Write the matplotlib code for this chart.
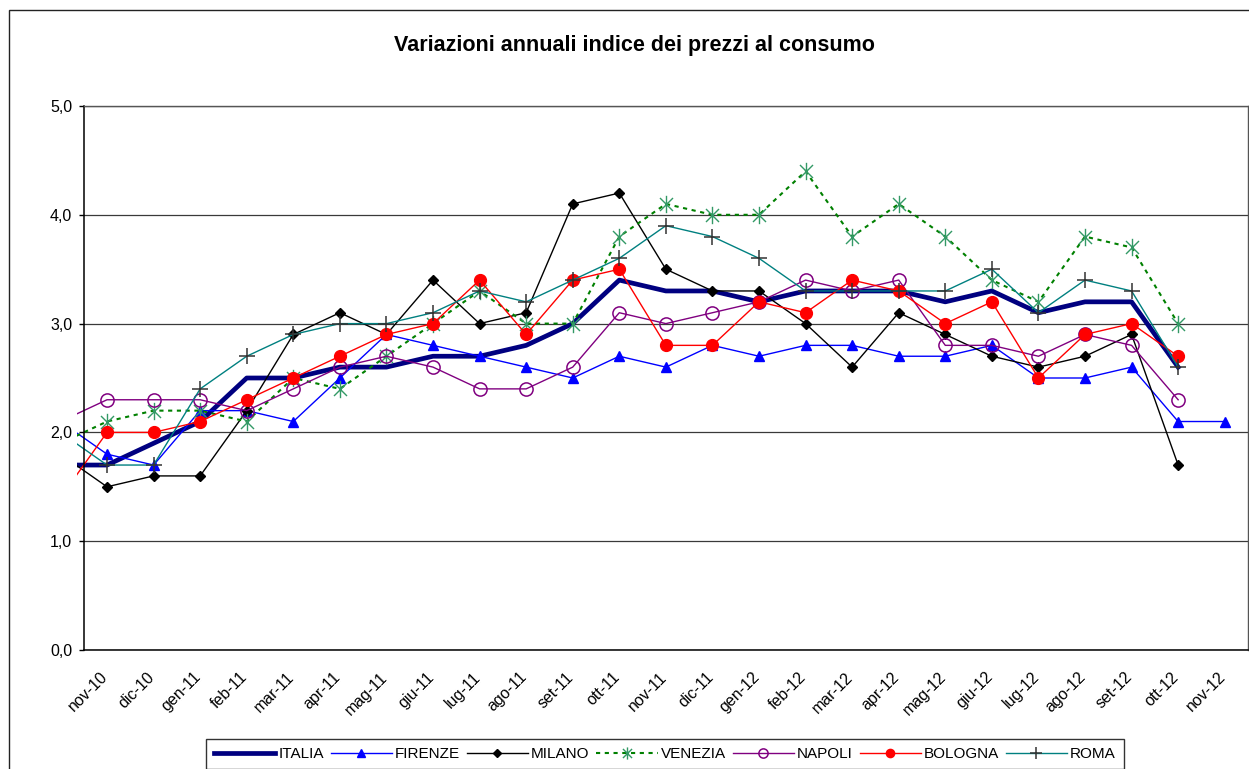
import matplotlib
matplotlib.use("Agg")
import matplotlib.pyplot as plt
import numpy as np
from matplotlib.path import Path
from matplotlib.patches import Rectangle
from matplotlib.ticker import FuncFormatter, FixedLocator

plt.rcParams['font.family'] = ['Liberation Sans', 'DejaVu Sans']

# ---- data ----
prev_month = 'ott-10'   # partially visible month before the first label
categories = ['nov-10', 'dic-10', 'gen-11', 'feb-11', 'mar-11', 'apr-11', 'mag-11',
              'giu-11', 'lug-11', 'ago-11', 'set-11', 'ott-11', 'nov-11', 'dic-11',
              'gen-12', 'feb-12', 'mar-12', 'apr-12', 'mag-12', 'giu-12', 'lug-12',
              'ago-12', 'set-12', 'ott-12', 'nov-12']

# first value of each list belongs to prev_month
italia  = [1.7, 1.7, 1.9, 2.1, 2.5, 2.5, 2.6, 2.6, 2.7, 2.7, 2.8, 3.0, 3.4, 3.3, 3.3, 3.2,
           3.3, 3.3, 3.3, 3.2, 3.3, 3.1, 3.2, 3.2, 2.6, None]
firenze = [2.1, 1.8, 1.7, 2.2, 2.2, 2.1, 2.5, 2.9, 2.8, 2.7, 2.6, 2.5, 2.7, 2.6, 2.8, 2.7,
           2.8, 2.8, 2.7, 2.7, 2.8, 2.5, 2.5, 2.6, 2.1, 2.1]
milano  = [1.8, 1.5, 1.6, 1.6, 2.2, 2.9, 3.1, 2.9, 3.4, 3.0, 3.1, 4.1, 4.2, 3.5, 3.3, 3.3,
           3.0, 2.6, 3.1, 2.9, 2.7, 2.6, 2.7, 2.9, 1.7, None]
venezia = [1.9, 2.1, 2.2, 2.2, 2.1, 2.5, 2.4, 2.7, 3.0, 3.3, 3.0, 3.0, 3.8, 4.1, 4.0, 4.0,
           4.4, 3.8, 4.1, 3.8, 3.4, 3.2, 3.8, 3.7, 3.0, None]
napoli  = [2.1, 2.3, 2.3, 2.3, 2.2, 2.4, 2.6, 2.7, 2.6, 2.4, 2.4, 2.6, 3.1, 3.0, 3.1, 3.2,
           3.4, 3.3, 3.4, 2.8, 2.8, 2.7, 2.9, 2.8, 2.3, None]
bologna = [1.4, 2.0, 2.0, 2.1, 2.3, 2.5, 2.7, 2.9, 3.0, 3.4, 2.9, 3.4, 3.5, 2.8, 2.8, 3.2,
           3.1, 3.4, 3.3, 3.0, 3.2, 2.5, 2.9, 3.0, 2.7, None]
roma    = [2.0, 1.7, 1.7, 2.4, 2.7, 2.9, 3.0, 3.0, 3.1, 3.3, 3.2, 3.4, 3.6, 3.9, 3.8, 3.6,
           3.3, 3.3, 3.3, 3.3, 3.5, 3.1, 3.4, 3.3, 2.6, None]

series_names = ['ITALIA', 'FIRENZE', 'MILANO', 'VENEZIA', 'NAPOLI', 'BOLOGNA', 'ROMA']
series_vals = [italia, firenze, milano, venezia, napoli, bologna, roma]
yticks = [0, 1, 2, 3, 4, 5]
title = 'Variazioni annuali indice dei prezzi al consumo'

# ---- figure ----
W, H = 1249, 769
fig = plt.figure(figsize=(W / 100, H / 100), dpi=100)
fig.patch.set_facecolor('white')

# outer chart frame (cropped on right/bottom)
fig.patches.append(Rectangle((9 / W, -0.05), 1.2, (H - 10) / H + 0.05,
                             transform=fig.transFigure, fill=False,
                             edgecolor='#222222', linewidth=1.0))

ax = fig.add_axes([84 / W, 1 - 650 / H, (1248 - 84) / W, (650 - 106) / H])

# asterisk marker: X plus vertical stroke
ast = Path([(0, -1), (0, 1), (-0.75, -0.75), (0.75, 0.75), (-0.75, 0.75), (0.75, -0.75)],
           [Path.MOVETO, Path.LINETO, Path.MOVETO, Path.LINETO, Path.MOVETO, Path.LINETO])

styles = {
    'ITALIA':  dict(color='#000080', lw=3.4, marker=None),
    'FIRENZE': dict(color='#0000FF', lw=1.0, marker='^', ms=7.5, mfc='#0000FF', mec='#0000FF'),
    'MILANO':  dict(color='#000000', lw=1.0, marker='D', ms=5.5, mfc='#000000', mec='#000000'),
    'VENEZIA': dict(color='#008000', lw=1.5, ls=(0, (2, 2.2)), marker=ast, ms=12.5,
                    mfc='none', mec='#339966', mew=1.0),
    'NAPOLI':  dict(color='#800080', lw=1.0, marker='o', ms=9.5, mfc='none', mec='#800080', mew=1.1),
    'BOLOGNA': dict(color='#FF0000', lw=1.0, marker='o', ms=8.5, mfc='#FF0000', mec='#FF0000'),
    'ROMA':    dict(color='#008080', lw=1.0, marker='+', ms=12, mfc='#333333', mec='#333333', mew=1.1),
}

x = np.arange(-1, len(categories))
clip_rect = Rectangle((-7 / 1164, 0), 1 + 7 / 1164, 1, transform=ax.transAxes)

for name, vals in zip(series_names, series_vals):
    y = np.array([np.nan if v is None else v for v in vals], dtype=float)
    st = dict(styles[name])
    ls = st.pop('ls', '-')
    line, = ax.plot(x, y, linestyle=ls, label=name, **st)
    line.set_clip_path(clip_rect)
    if ls != '-':
        line.set_dash_capstyle('butt')

ax.set_xlim(-0.494, 24.5)
ax.set_ylim(0, 5)

# category labels sit slightly left of their data points (Excel style)
ax.set_xticks(np.arange(len(categories)) - 0.15)
ax.set_xticklabels(categories, rotation=45, ha='right', va='top', rotation_mode='anchor',
                   fontsize=11.5)
ax.tick_params(axis='x', length=0, pad=14)

ax.yaxis.set_major_locator(FixedLocator(yticks))
ax.yaxis.set_major_formatter(FuncFormatter(lambda v, p: f'{v:.1f}'.replace('.', ',')))
ax.tick_params(axis='y', length=3.5, width=1, direction='out', pad=5, labelsize=11.5,
               colors='black')

ax.grid(axis='y', color='#3a3a3a', linewidth=0.9)
ax.set_axisbelow(True)
for s in ['left', 'bottom']:
    ax.spines[s].set_color('black')
    ax.spines[s].set_linewidth(1.1)
for s in ['top', 'right']:
    ax.spines[s].set_color('#555555')
    ax.spines[s].set_linewidth(1.0)

fig.text(634 / W, 1 - 45 / H, title, ha='center', va='center', fontsize=15.5,
         fontweight='bold')

leg = ax.legend(loc='upper center', bbox_to_anchor=(665 / W, 1 - 731 / H),
                bbox_transform=fig.transFigure, ncol=7, frameon=True, fancybox=False,
                edgecolor='black', handlelength=4.0, handletextpad=0.2,
                columnspacing=0.45, borderpad=0.55, markerscale=0.7,
                prop={'size': 11})
leg.get_frame().set_linewidth(1.0)

fig.savefig('out.png', dpi=100, facecolor='white')
